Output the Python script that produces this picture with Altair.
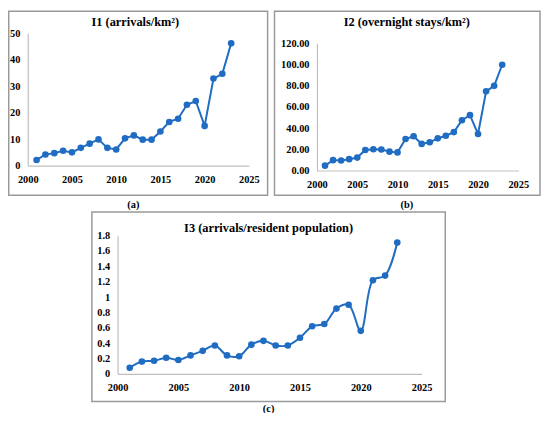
import altair as alt
import pandas as pd

years = [2001, 2002, 2003, 2004, 2005, 2006, 2007, 2008, 2009, 2010, 2011, 2012,
         2013, 2014, 2015, 2016, 2017, 2018, 2019, 2020, 2021, 2022, 2023]
i1 = [2.1, 4.2, 4.7, 5.6, 5.0, 6.7, 8.3, 9.9, 6.7, 6.1, 10.3, 11.4,
      9.8, 9.8, 12.9, 16.5, 17.7, 23.0, 24.4, 15.0, 32.9, 34.7, 46.2]
i2 = [4.6, 9.8, 9.5, 10.7, 12.2, 19.3, 20.0, 19.8, 17.8, 17.1, 29.7, 32.3,
      25.1, 26.6, 30.3, 32.8, 36.2, 47.4, 52.2, 34.4, 74.6, 79.8, 99.7]
i3 = [0.08, 0.16, 0.17, 0.21, 0.18, 0.24, 0.30, 0.37, 0.24, 0.23, 0.38, 0.43,
      0.37, 0.37, 0.47, 0.62, 0.65, 0.85, 0.90, 0.56, 1.22, 1.28, 1.71]

titles = ["I1 (arrivals/km²)", "I2 (overnight stays/km²)", "I3 (arrivals/resident population)"]
captions = ["(a)", "(b)", "(c)"]
x_ticks = [2000, 2005, 2010, 2015, 2020, 2025]
y1_ticks = [0, 10, 20, 30, 40, 50]
y2_ticks = [0, 20, 40, 60, 80, 100, 120]
y3_ticks = [0, 0.2, 0.4, 0.6, 0.8, 1.0, 1.2, 1.4, 1.6, 1.8]

W, H = 541, 405
BLUE = "#1F6CC2"
FONT = "Liberation Serif"
AXIS_GRAY = "#BFBFBF"
BORDER_GRAY = "#9A9A9A"

lab = dict(labelFont=FONT, labelFontSize=10.5, labelFontWeight="bold", labelColor="black",
           grid=False, ticks=False, tickSize=0, labelFlush=False, labelOverlap=False,
           title=None, domainColor=AXIS_GRAY, domainWidth=1.2)


def panel(values, yticks, yfmt, xr, yr, interp="linear"):
    df = pd.DataFrame({"year": years, "v": values})
    return alt.Chart(df).mark_line(
        color=BLUE, strokeWidth=2, interpolate=interp,
        point=alt.OverlayMarkDef(filled=True, size=45, color=BLUE)
    ).encode(
        x=alt.X("year:Q",
                scale=alt.Scale(domain=[2000, 2025], range=list(xr), nice=False, zero=False),
                axis=alt.Axis(values=x_ticks, format="d", orient="bottom", offset=yr[0] - H,
                              labelPadding=9, **lab)),
        y=alt.Y("v:Q",
                scale=alt.Scale(domain=[yticks[0], yticks[-1]], range=list(yr), nice=False, zero=True),
                axis=alt.Axis(values=yticks, format=yfmt, orient="left", offset=-xr[0],
                              labelPadding=8, **lab)),
    )


one = pd.DataFrame({"k": [0]})


def border(x0, x1, y0, y1):
    return alt.Chart(one).mark_rect(fill=None, stroke=BORDER_GRAY, strokeWidth=1.5).encode(
        x=alt.value(x0), x2=alt.value(x1), y=alt.value(y0), y2=alt.value(y1))


def label(txt, x, y, size, weight):
    return alt.Chart(one).mark_text(
        font=FONT, fontSize=size, fontWeight=weight, color="black",
        align="center", baseline="middle"
    ).encode(x=alt.value(x), y=alt.value(y), text=alt.value(txt))


pa = panel(i1, y1_ticks, "d", (20, 244), (157, 23))
pb = panel(i2, y2_ticks, ".2f", (313, 517), (162, 33))
pc = panel(i3, y3_ticks, ".1~f", (111, 419), (368, 228), interp="catmull-rom")

chart = alt.layer(
    border(0.75, 263, 0.75, 187),
    border(270, 539, 0.75, 187),
    border(85, 443, 204, 396),
    label(titles[0], 129, 12, 12.5, "bold"),
    label(titles[1], 404, 12, 12.5, "bold"),
    label(titles[2], 264, 220, 12.5, "bold"),
    label(captions[0], 127, 197, 10.5, "bold"),
    label(captions[1], 404, 197, 10.5, "bold"),
    label(captions[2], 264, 404, 10.5, "bold"),
    pa, pb, pc,
).resolve_scale(x="independent", y="independent").properties(
    width=W, height=H, autosize=alt.AutoSizeParams(type="none"), padding=0
).configure_view(stroke=None)

chart.save("out.html", embed_options={"renderer": "svg", "actions": False})
